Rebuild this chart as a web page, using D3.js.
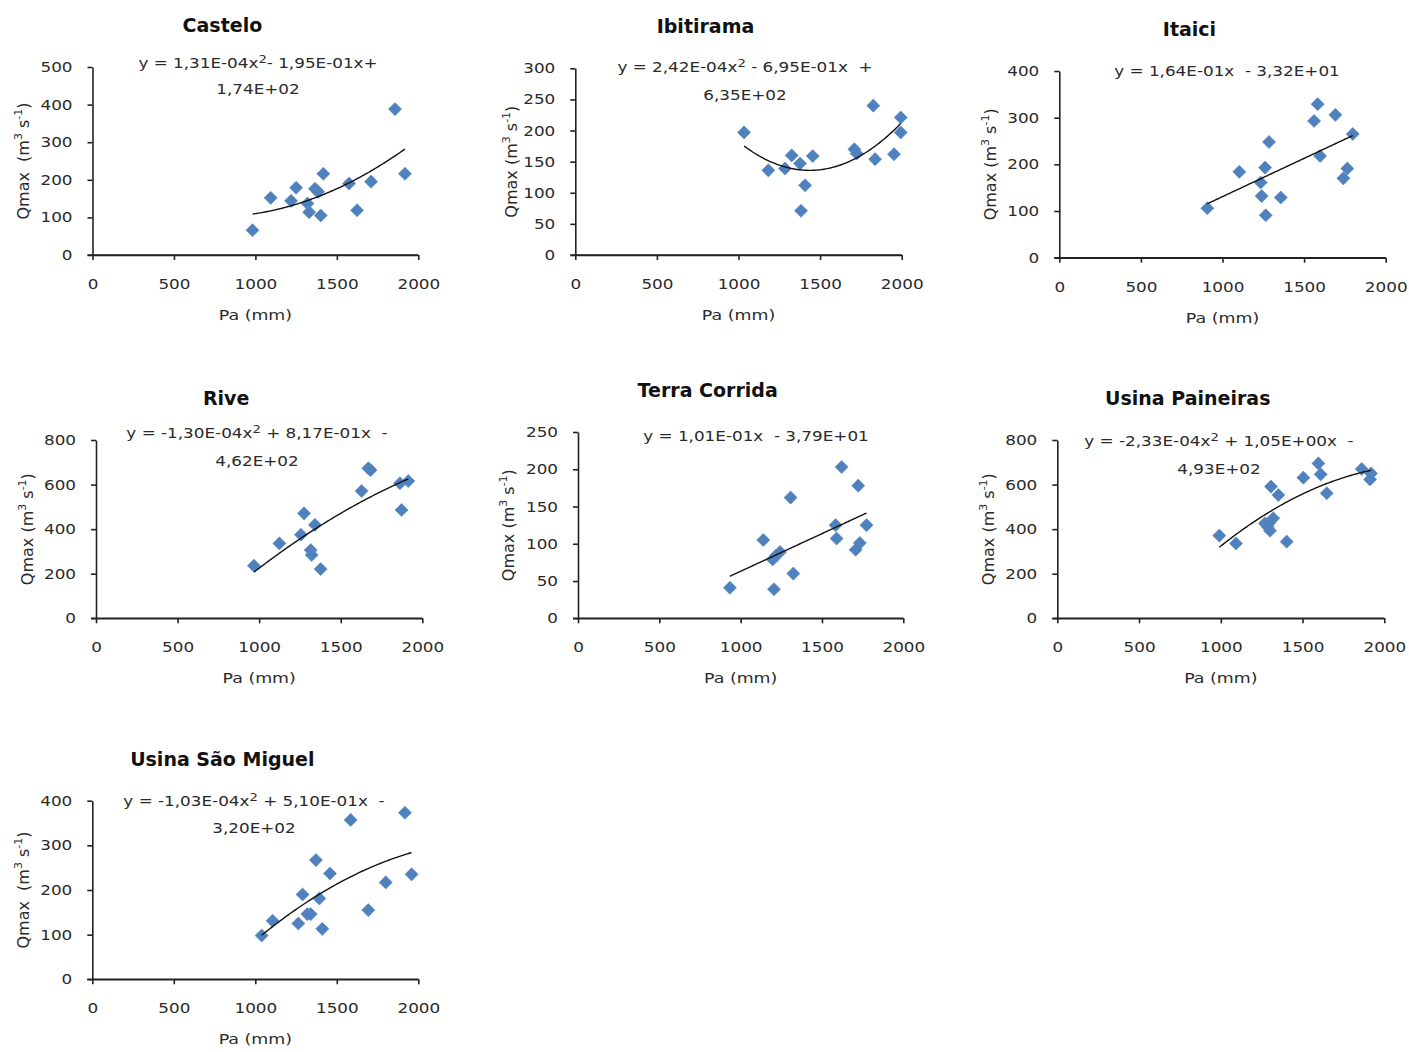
<!DOCTYPE html>
<html>
<head>
<meta charset="utf-8">
<script src="https://cdn.jsdelivr.net/npm/d3@7"></script>
<style>
  body { margin: 0; background: #fff; }
  svg text { font-family: "DejaVu Sans", Verdana, sans-serif; }
</style>
</head>
<body>
<svg id="chart" width="1409" height="1052"></svg>
<script>
// Stations, annual rainfall Pa (mm) and peak discharge Qmax (m³/s)
const stations = ["Castelo", "Ibitirama", "Itaici", "Rive", "Terra Corrida", "Usina Paineiras", "Usina São Miguel"];

const casteloPa = [982, 1094, 1219, 1250, 1320, 1330, 1366, 1385, 1401, 1417, 1575, 1624, 1710, 1857, 1918];
const casteloQ  = [66, 152, 144, 179, 137, 114, 176, 168, 105, 216, 190, 119, 195, 388, 216];

const ibitiramaPa = [1034, 1183, 1285, 1326, 1377, 1408, 1383, 1455, 1710, 1724, 1826, 1837, 1953, 1994, 1994];
const ibitiramaQ  = [197, 136, 139, 160, 147, 112, 71, 159, 170, 163, 240, 154, 162, 197, 221];

const itaiciPa = [907, 1103, 1234, 1261, 1285, 1240, 1265, 1357, 1561, 1583, 1598, 1692, 1741, 1765, 1798];
const itaiciQ  = [106, 184, 161, 193, 248, 132, 91, 129, 293, 329, 218, 306, 170, 191, 265];

const rivePa = [968, 1124, 1256, 1275, 1316, 1322, 1342, 1377, 1628, 1669, 1683, 1863, 1873, 1914];
const riveQ  = [236, 336, 375, 471, 306, 284, 419, 221, 571, 673, 665, 606, 486, 616];

const terraCorridaPa = [934, 1139, 1197, 1217, 1242, 1205, 1307, 1324, 1584, 1590, 1621, 1707, 1723, 1733, 1774];
const terraCorridaQ  = [41, 105, 79, 84, 89, 39, 162, 60, 125, 107, 203, 92, 178, 101, 125];

const paineirasPa = [991, 1093, 1270, 1287, 1301, 1297, 1307, 1321, 1352, 1403, 1505, 1597, 1611, 1648, 1862, 1919, 1913];
const paineirasQ  = [371, 336, 426, 411, 393, 429, 591, 449, 553, 344, 631, 695, 646, 561, 670, 650, 623];

const saoMiguelPa = [1039, 1106, 1264, 1290, 1319, 1340, 1372, 1393, 1411, 1458, 1585, 1693, 1800, 1918, 1959];
const saoMiguelQ  = [98, 131, 125, 190, 146, 146, 267, 181, 113, 237, 357, 155, 217, 373, 235];

const paSeries = [casteloPa, ibitiramaPa, itaiciPa, rivePa, terraCorridaPa, paineirasPa, saoMiguelPa];
const qSeries  = [casteloQ, ibitiramaQ, itaiciQ, riveQ, terraCorridaQ, paineirasQ, saoMiguelQ];

// Fitted trend coefficients [a, b, c] for y = a·x² + b·x + c
const trendCoef = [
  [1.31e-4, -1.95e-1, 1.74e2],
  [2.42e-4, -6.95e-1, 6.35e2],
  [0, 1.64e-1, -3.32e1],
  [-1.30e-4, 8.17e-1, -4.62e2],
  [0, 1.01e-1, -3.79e1],
  [-2.33e-4, 1.05e0, -4.93e2],
  [-1.03e-4, 5.10e-1, -3.20e2]
];

// Equation labels ("^2" marks the squared term)
const equationText = [
  ["y = 1,31E-04x^2- 1,95E-01x+", "1,74E+02"],
  ["y = 2,42E-04x^2 - 6,95E-01x  +", "6,35E+02"],
  ["y = 1,64E-01x  - 3,32E+01"],
  ["y = -1,30E-04x^2 + 8,17E-01x  -", "4,62E+02"],
  ["y = 1,01E-01x  - 3,79E+01"],
  ["y = -2,33E-04x^2 + 1,05E+00x  -", "4,93E+02"],
  ["y = -1,03E-04x^2 + 5,10E-01x  -", "3,20E+02"]
];

const xTicks = [0, 500, 1000, 1500, 2000];
const yMax   = [500, 300, 400, 800, 250, 800, 400];
const yStep  = [100, 50, 100, 200, 50, 200, 100];

// Plot-area boxes and label placement for each panel
const layout = [
  { left: 92.5,  right: 418.3,  top: 67,    bottom: 255,   eqX: 258,  eqY: 63,  eqGap: 26, ylabX: -70 },
  { left: 575.3, right: 901.7,  top: 68.3,  bottom: 255,   eqX: 745,  eqY: 67,  eqGap: 28, ylabX: -64 },
  { left: 1059.3,right: 1385.7, top: 71,    bottom: 257.7, eqX: 1227, eqY: 71,  eqGap: 0,  ylabX: -69 },
  { left: 96,    right: 422.3,  top: 440,   bottom: 618.3, eqX: 257,  eqY: 433, eqGap: 28, ylabX: -69 },
  { left: 578,   right: 903.3,  top: 432,   bottom: 618.3, eqX: 756,  eqY: 436, eqGap: 0,  ylabX: -70 },
  { left: 1057.3,right: 1384.3, top: 440,   bottom: 618.3, eqX: 1219, eqY: 441, eqGap: 28, ylabX: -69 },
  { left: 92.3,  right: 418.3,  top: 800.7, bottom: 979.3, eqX: 254,  eqY: 801, eqGap: 27, ylabX: -69 }
];

const svg = d3.select("#chart");
const axisColor = "#222";
const textColor = "#2a2a2a";
const markerColor = "#4f81bd";
const wide = 1.2;       // horizontal stretch for the plain labels
const labelSize = 14;

const diamond = d3.symbol().type(d3.symbolSquare).size(86);

function addEquationLine(sel, str) {
  const parts = str.split("^2");
  parts.forEach((p, k) => {
    const t = sel.append("tspan").text(p);
    if (k > 0) t.attr("dy", 5);
    if (k < parts.length - 1) {
      sel.append("tspan").attr("font-size", 11).attr("dy", -5).text("2");
    }
  });
}

stations.forEach((name, i) => {
  const L = layout[i];
  const g = svg.append("g");
  const x = d3.scaleLinear().domain([0, 2000]).range([L.left, L.right]);
  const y = d3.scaleLinear().domain([0, yMax[i]]).range([L.bottom, L.top]);
  const cx = (L.left + L.right) / 2;

  // Title
  g.append("text")
    .attr("x", cx - 33).attr("y", L.top - 42 + 7)
    .attr("text-anchor", "middle")
    .attr("font-size", 19).attr("font-weight", "bold")
    .attr("fill", "#111")
    .text(name);

  // Axes
  const xAxis = g.append("g")
    .attr("transform", `translate(0,${L.bottom})`)
    .call(d3.axisBottom(x).tickValues(xTicks).tickFormat(d3.format("d"))
      .tickSize(5).tickSizeOuter(0).tickPadding(19));
  const yAxis = g.append("g")
    .attr("transform", `translate(${L.left},0)`)
    .call(d3.axisLeft(y).tickValues(d3.range(0, yMax[i] + 1, yStep[i])).tickFormat(d3.format("d"))
      .tickSize(5).tickSizeOuter(0).tickPadding(15));
  [xAxis, yAxis].forEach(a => {
    a.select(".domain").attr("stroke", axisColor).attr("stroke-width", 1.6);
    a.selectAll(".tick line").attr("stroke", axisColor).attr("stroke-width", 1.6);
    a.selectAll(".tick text")
      .attr("font-size", labelSize).attr("fill", textColor)
      .style("font-family", "'DejaVu Sans', Verdana, sans-serif")
      .attr("transform", `scale(${wide},1)`);
  });
  yAxis.selectAll(".tick text").attr("x", -20 / wide);
  // Extend the x-axis line across the y-axis tick at zero
  g.append("line")
    .attr("x1", L.left - 5).attr("x2", L.right)
    .attr("y1", L.bottom).attr("y2", L.bottom)
    .attr("stroke", axisColor).attr("stroke-width", 1.6);

  // Axis titles
  g.append("text")
    .attr("transform", `translate(${cx},${L.bottom + 65}) scale(${wide},1)`)
    .attr("text-anchor", "middle")
    .attr("font-size", labelSize + 0.5).attr("fill", textColor)
    .text("Pa (mm)");

  const yl = g.append("text")
    .attr("transform", `translate(${L.left + L.ylabX + 6},${(L.top + L.bottom) / 2}) rotate(-90)`)
    .attr("text-anchor", "middle")
    .attr("font-size", 16).attr("fill", textColor)
    .attr("xml:space", "preserve")
    .style("white-space", "pre");
  yl.append("tspan").text(i === 0 || i === 6 ? "Qmax  (m" : "Qmax (m");
  yl.append("tspan").attr("font-size", 11).attr("dy", -7).text("3");
  yl.append("tspan").attr("dy", 7).text(" s");
  yl.append("tspan").attr("font-size", 11).attr("dy", -7).text("-1");
  yl.append("tspan").attr("dy", 7).text(")");

  // Observations
  const pts = paSeries[i].map((p, k) => [p, qSeries[i][k]]);
  g.append("g").selectAll("path")
    .data(pts)
    .join("path")
    .attr("d", diamond)
    .attr("transform", d => `translate(${x(d[0])},${y(d[1])}) rotate(45)`)
    .attr("fill", markerColor)
    .attr("stroke", "#5a8ac4").attr("stroke-width", 0.6);

  // Trend line over the observed rainfall range
  const [a, b, c] = trendCoef[i];
  const [xmin, xmax] = d3.extent(paSeries[i]);
  const samples = d3.range(0, 101).map(k => xmin + (xmax - xmin) * k / 100);
  g.append("path")
    .datum(samples)
    .attr("fill", "none")
    .attr("stroke", "#111").attr("stroke-width", 1.4)
    .attr("d", d3.line().x(v => x(v)).y(v => y(a * v * v + b * v + c)));

  // Equation label
  equationText[i].forEach((line, k) => {
    const t = g.append("text")
      .attr("transform", `translate(${L.eqX},${L.eqY + 5 + k * L.eqGap}) scale(${wide},1)`)
      .attr("text-anchor", "middle")
      .attr("font-size", labelSize).attr("fill", textColor)
      .attr("xml:space", "preserve")
      .style("white-space", "pre");
    addEquationLine(t, line);
  });
});
</script>
</body>
</html>
